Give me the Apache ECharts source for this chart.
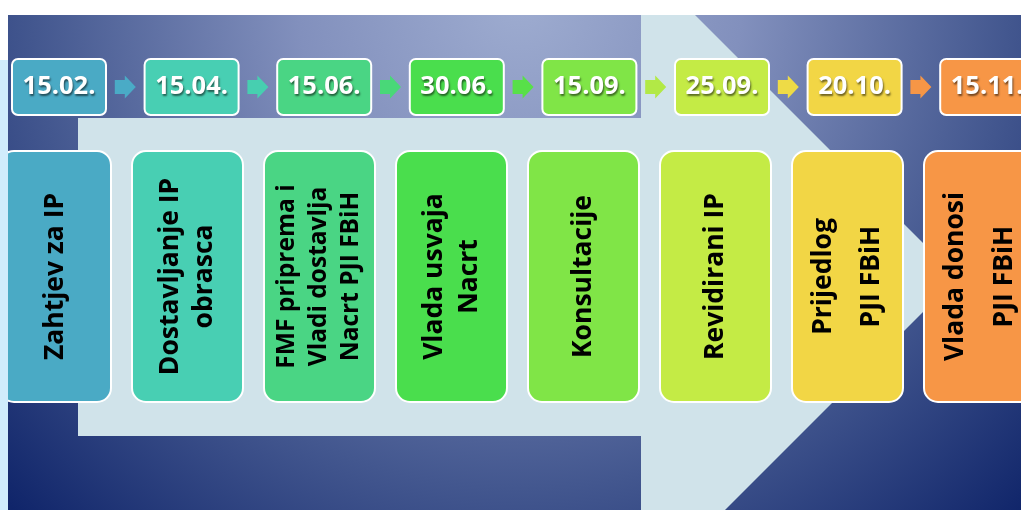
<!DOCTYPE html>
<html>
<head>
<meta charset="utf-8">
<script src="https://cdn.jsdelivr.net/npm/echarts@6/dist/echarts.min.js"></script>
<style>
html,body{margin:0;padding:0;background:#fff;}
#chart{width:1021px;height:510px;}
</style>
</head>
<body>
<div id="chart"></div>
<script>
// ---- data ----
const dates = ['15.02.', '15.04.', '15.06.', '30.06.', '15.09.', '25.09.', '20.10.', '15.11.'];
const steps = [
  'Zahtjev za IP',
  'Dostavljanje IP\nobrasca',
  'FMF priprema i\nVladi dostavlja\nNacrt PJI FBiH',
  'Vlada usvaja\nNacrt',
  'Konsultacije',
  'Revidirani IP',
  'Prijedlog\nPJI FBiH',
  'Vlada donosi\nPJI FBiH'
];
const stageIndex = [0, 1, 2, 3, 4, 5, 6, 7];
const transitions = [0, 1, 2, 3, 4, 5, 6];

// ---- styles ----
const palette = ['#4aaac5', '#48cfb3', '#4ad584', '#4ade4d', '#80e547', '#c4eb45', '#f2d645', '#f79646'];
const arrowColors = ['#4aabc6', '#47cfb0', '#49d878', '#58e049', '#b2e946', '#eedb46', '#f69646'];
const stepFontSize = [26.5, 26.5, 24.5, 26.5, 26.5, 26.5, 26.5, 26.5];
const stepLineHeight = [34, 34, 32, 35, 34, 34, 48, 49];
const FONT = '"Open Sans", Lato, sans-serif';

const chart = echarts.init(document.getElementById('chart'), null, {renderer: 'canvas'});

const option = {
  backgroundColor: '#ffffff',
  animation: false,
  graphic: {
    elements: [
      {
        type: 'rect', z: 0,
        shape: {x: 8, y: 15, width: 1013, height: 495},
        style: {
          fill: new echarts.graphic.RadialGradient(520, 0, 740, [
            {offset: 0, color: '#9eacd0'},
            {offset: 0.3, color: '#8290bd'},
            {offset: 0.66, color: '#43578f'},
            {offset: 0.97, color: '#10256a'},
            {offset: 1, color: '#0e2366'}
          ], true)
        }
      },
      {
        type: 'polygon', z: 1,
        shape: {points: [[78, 118], [641, 118], [641, 15], [695, 15], [957.5, 277.5], [725, 510], [641, 510], [641, 436], [78, 436]]},
        style: {fill: '#d0e3ea'}
      },
      {
        type: 'rect', z: 200,
        shape: {x: 0, y: 60, width: 8, height: 450},
        style: {fill: '#d0ecfc'}
      }
    ]
  },
  grid: [
    {left: -7.3, top: 58, width: 1060.8, height: 58, outerBoundsMode: 'none', containLabel: false},
    {left: -10.5, top: 150, width: 1056, height: 253, outerBoundsMode: 'none', containLabel: false}
  ],
  xAxis: [
    {type: 'category', gridIndex: 0, data: dates, show: false},
    {type: 'category', gridIndex: 1, data: steps, show: false}
  ],
  yAxis: [
    {type: 'value', gridIndex: 0, min: 0, max: 1, show: false},
    {type: 'value', gridIndex: 1, min: 0, max: 1, show: false}
  ],
  series: [
    {
      type: 'custom', name: 'dates', z: 10,
      xAxisIndex: 0, yAxisIndex: 0,
      data: stageIndex.map(i => [i, 1]),
      renderItem: function (params, api) {
        const i = api.value(0);
        const top = api.coord([i, 1]);
        const bot = api.coord([i, 0]);
        const band = api.size([1, 0])[0];
        const w = band * 0.724;
        return {
          type: 'group',
          children: [
            {
              type: 'rect',
              shape: {x: top[0] - w / 2 + 1, y: top[1] + 1, width: w - 2, height: bot[1] - top[1] - 2, r: 6},
              style: {fill: palette[i], stroke: '#ffffff', lineWidth: 2}
            },
            {
              type: 'text',
              x: top[0], y: (top[1] + bot[1]) / 2,
              style: {
                text: dates[i], fill: '#ffffff',
                fontSize: 25.5, fontWeight: 'bold', fontFamily: FONT,
                align: 'center', verticalAlign: 'middle',
                textShadowColor: 'rgba(0,0,0,0.55)', textShadowBlur: 2,
                textShadowOffsetX: 1, textShadowOffsetY: 1.5
              }
            }
          ]
        };
      }
    },
    {
      type: 'custom', name: 'arrows', z: 10,
      xAxisIndex: 0, yAxisIndex: 0,
      data: transitions.map(i => [i, 0.5]),
      renderItem: function (params, api) {
        const i = api.value(0);
        const p = api.coord([i, 0.5]);
        const band = api.size([1, 0])[0];
        const cx = p[0] + band / 2;
        const cy = p[1];
        return {
          type: 'polygon',
          shape: {points: [
            [cx - 10.5, cy - 7], [cx - 0.5, cy - 7], [cx - 0.5, cy - 11.5], [cx + 10.5, cy],
            [cx - 0.5, cy + 11.5], [cx - 0.5, cy + 7], [cx - 10.5, cy + 7]
          ]},
          style: {fill: arrowColors[i]}
        };
      }
    },
    {
      type: 'custom', name: 'steps', z: 10,
      xAxisIndex: 1, yAxisIndex: 1,
      data: stageIndex.map(i => [i, 1]),
      renderItem: function (params, api) {
        const i = api.value(0);
        const top = api.coord([i, 1]);
        const bot = api.coord([i, 0]);
        const band = api.size([1, 0])[0];
        const w = band * 0.856;
        return {
          type: 'group',
          children: [
            {
              type: 'rect',
              shape: {x: top[0] - w / 2 + 1, y: top[1] + 1, width: w - 2, height: bot[1] - top[1] - 2, r: 14},
              style: {fill: palette[i], stroke: '#ffffff', lineWidth: 2}
            },
            {
              type: 'text',
              x: top[0], y: (top[1] + bot[1]) / 2,
              rotation: Math.PI / 2,
              style: {
                text: steps[i], fill: '#000000',
                fontSize: stepFontSize[i], fontWeight: 'bold', fontFamily: FONT,
                lineHeight: stepLineHeight[i],
                align: 'center', verticalAlign: 'middle'
              }
            }
          ]
        };
      }
    }
  ]
};
chart.setOption(option);
</script>
</body>
</html>
